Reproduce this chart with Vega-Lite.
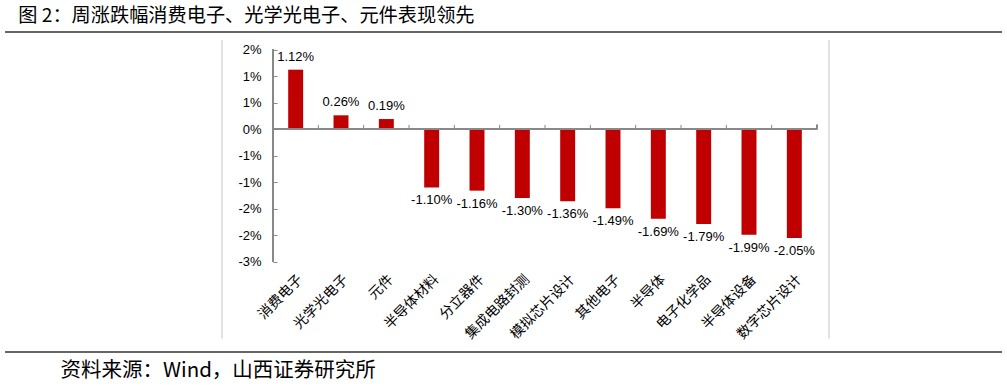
{
  "$schema": "https://vega.github.io/schema/vega-lite/v6.json",
  "width": 997,
  "height": 320,
  "autosize": {"type": "none"},
  "padding": {"left": 5, "top": 32, "right": 5, "bottom": 40},
  "background": "white",
  "config": {"view": {"stroke": null}, "font": "Liberation Sans", "axis": {"labelOverlap": false}, "axisY": {"labelOverlap": false}},
  "title": {
    "text": "图 2：周涨跌幅消费电子、光学光电子、元件表现领先",
    "anchor": "start",
    "font": "Noto Sans CJK SC",
    "fontSize": 19.2,
    "fontWeight": "normal",
    "color": "#000000",
    "offset": 5,
    "dx": 14
  },
  "data": {
    "values": [
      {"cat": "消费电子", "value": 1.12, "label": "1.12%"},
      {"cat": "光学光电子", "value": 0.26, "label": "0.26%"},
      {"cat": "元件", "value": 0.19, "label": "0.19%"},
      {"cat": "半导体材料", "value": -1.10, "label": "-1.10%"},
      {"cat": "分立器件", "value": -1.16, "label": "-1.16%"},
      {"cat": "集成电路封测", "value": -1.30, "label": "-1.30%"},
      {"cat": "模拟芯片设计", "value": -1.36, "label": "-1.36%"},
      {"cat": "其他电子", "value": -1.49, "label": "-1.49%"},
      {"cat": "半导体", "value": -1.69, "label": "-1.69%"},
      {"cat": "电子化学品", "value": -1.79, "label": "-1.79%"},
      {"cat": "半导体设备", "value": -1.99, "label": "-1.99%"},
      {"cat": "数字芯片设计", "value": -2.05, "label": "-2.05%"}
    ]
  },
  "resolve": {"scale": {"x": "independent"}, "axis": {"x": "independent", "y": "independent"}},
  "layer": [
    {
      "resolve": {"axis": {"x": "independent", "y": "independent"}},
      "layer": [
        {
          "mark": {"type": "bar", "color": "#C00000", "width": {"band": 0.33}},
          "encoding": {
            "x": {
              "field": "cat", "type": "nominal", "sort": null,
              "scale": {"type": "band", "domain": ["消费电子","光学光电子","元件","半导体材料","分立器件","集成电路封测","模拟芯片设计","其他电子","半导体","电子化学品","半导体设备","数字芯片设计"], "paddingInner": 0, "paddingOuter": 0, "range": [268, 812]},
              "axis": {
                "orient": "bottom", "offset": -82, "domain": false, "ticks": false,
                "labelAngle": -45, "labelFont": "Noto Sans CJK SC", "labelFontSize": 14,
                "labelColor": "#000000", "labelPadding": 2, "title": null
              }
            },
            "y": {
              "field": "value", "type": "quantitative",
              "scale": {"domain": [-4.2, 1.83], "nice": false, "zero": false},
              "axis": {
                "orient": "left", "offset": -268, "values": [-2.5, -2, -1.5, -1, -0.5, 0, 0.5, 1, 1.5],
                "labelExpr": "(datum.value < 0 ? '-' : '') + round(abs(datum.value)) + '%'",
                "labelOverlap": false, "labelSeparation": 0, "labelBound": false,
                "domain": false, "grid": false, "tickSize": -4, "tickColor": "#888888",
                "labelPadding": 16, "labelFontSize": 13, "labelColor": "#000000",
                "labelFont": "Liberation Sans", "title": null
              }
            }
          }
        },
        {
          "mark": {"type": "rule", "color": "#888888", "strokeWidth": 1},
          "encoding": {
            "x": {"datum": "消费电子", "type": "nominal", "bandPosition": 0, "axis": null},
            "x2": {"datum": "数字芯片设计", "bandPosition": 1},
            "y": {"datum": 0, "type": "quantitative", "axis": null}
          }
        },
        {
          "mark": {"type": "rule", "color": "#888888", "strokeWidth": 1},
          "encoding": {
            "x": {"datum": "消费电子", "type": "nominal", "bandPosition": 0, "axis": null},
            "y": {"datum": 1.5, "type": "quantitative", "axis": null},
            "y2": {"datum": -2.5}
          }
        },
        {
          "mark": {"type": "rule", "color": "#888888", "strokeWidth": 1},
          "encoding": {
            "x": {"field": "cat", "type": "nominal", "bandPosition": 0, "axis": null},
            "y": {"datum": 0, "type": "quantitative", "axis": null},
            "y2": {"datum": 0.08}
          }
        },
        {
          "mark": {"type": "rule", "color": "#888888", "strokeWidth": 1},
          "encoding": {
            "x": {"datum": "数字芯片设计", "type": "nominal", "bandPosition": 1, "axis": null},
            "y": {"datum": 0, "type": "quantitative", "axis": null},
            "y2": {"datum": 0.08}
          }
        },
        {
          "transform": [{"filter": "datum.value >= 0"}],
          "mark": {"type": "text", "baseline": "alphabetic", "dy": -9, "fontSize": 13, "font": "Liberation Sans", "color": "#000000"},
          "encoding": {
            "x": {"field": "cat", "type": "nominal",
              "axis": {"orient": "bottom", "domain": false, "labels": false, "ticks": false, "grid": false,
                "title": "资料来源：Wind，山西证券研究所", "titleFont": "Noto Sans CJK SC", "titleFontSize": 20.5, "titleFontWeight": "normal", "titleColor": "#000000",
                "titleAnchor": "start", "titleAlign": "left", "titleX": 55, "titleY": 24, "titleBaseline": "alphabetic"}},
            "y": {"field": "value", "type": "quantitative", "axis": null},
            "text": {"field": "label"}
          }
        },
        {
          "transform": [{"filter": "datum.value < 0"}],
          "mark": {"type": "text", "baseline": "top", "dy": 7, "fontSize": 13, "font": "Liberation Sans", "color": "#000000"},
          "encoding": {
            "x": {"field": "cat", "type": "nominal", "axis": null},
            "y": {"field": "value", "type": "quantitative", "axis": null},
            "text": {"field": "label"}
          }
        }
      ]
    },
    {
      "mark": {"type": "rule", "color": "#e3e3e3", "strokeWidth": 1},
      "encoding": {
        "x": {"datum": 0.2177, "type": "quantitative", "scale": {"domain": [0, 1], "nice": false}, "axis": null},
        "y": {"datum": 1.68, "type": "quantitative", "axis": null},
        "y2": {"datum": -3.94}
      }
    },
    {
      "mark": {"type": "rule", "color": "#e3e3e3", "strokeWidth": 1},
      "encoding": {
        "x": {"datum": 0.8265, "type": "quantitative", "scale": {"domain": [0, 1], "nice": false}, "axis": null},
        "y": {"datum": 1.68, "type": "quantitative", "axis": null},
        "y2": {"datum": -3.94}
      }
    },
    {
      "mark": {"type": "rule", "color": "#666666", "strokeWidth": 1.5},
      "encoding": {
        "x": {"datum": 0, "type": "quantitative", "scale": {"domain": [0, 1], "nice": false}, "axis": null},
        "x2": {"datum": 1},
        "y": {"datum": 1.83, "type": "quantitative", "axis": null}
      }
    },
    {
      "mark": {"type": "rule", "color": "#666666", "strokeWidth": 1.5},
      "encoding": {
        "x": {"datum": 0, "type": "quantitative", "scale": {"domain": [0, 1], "nice": false}, "axis": null},
        "x2": {"datum": 1},
        "y": {"datum": -4.2, "type": "quantitative", "axis": null}
      }
    }
  ]
}
